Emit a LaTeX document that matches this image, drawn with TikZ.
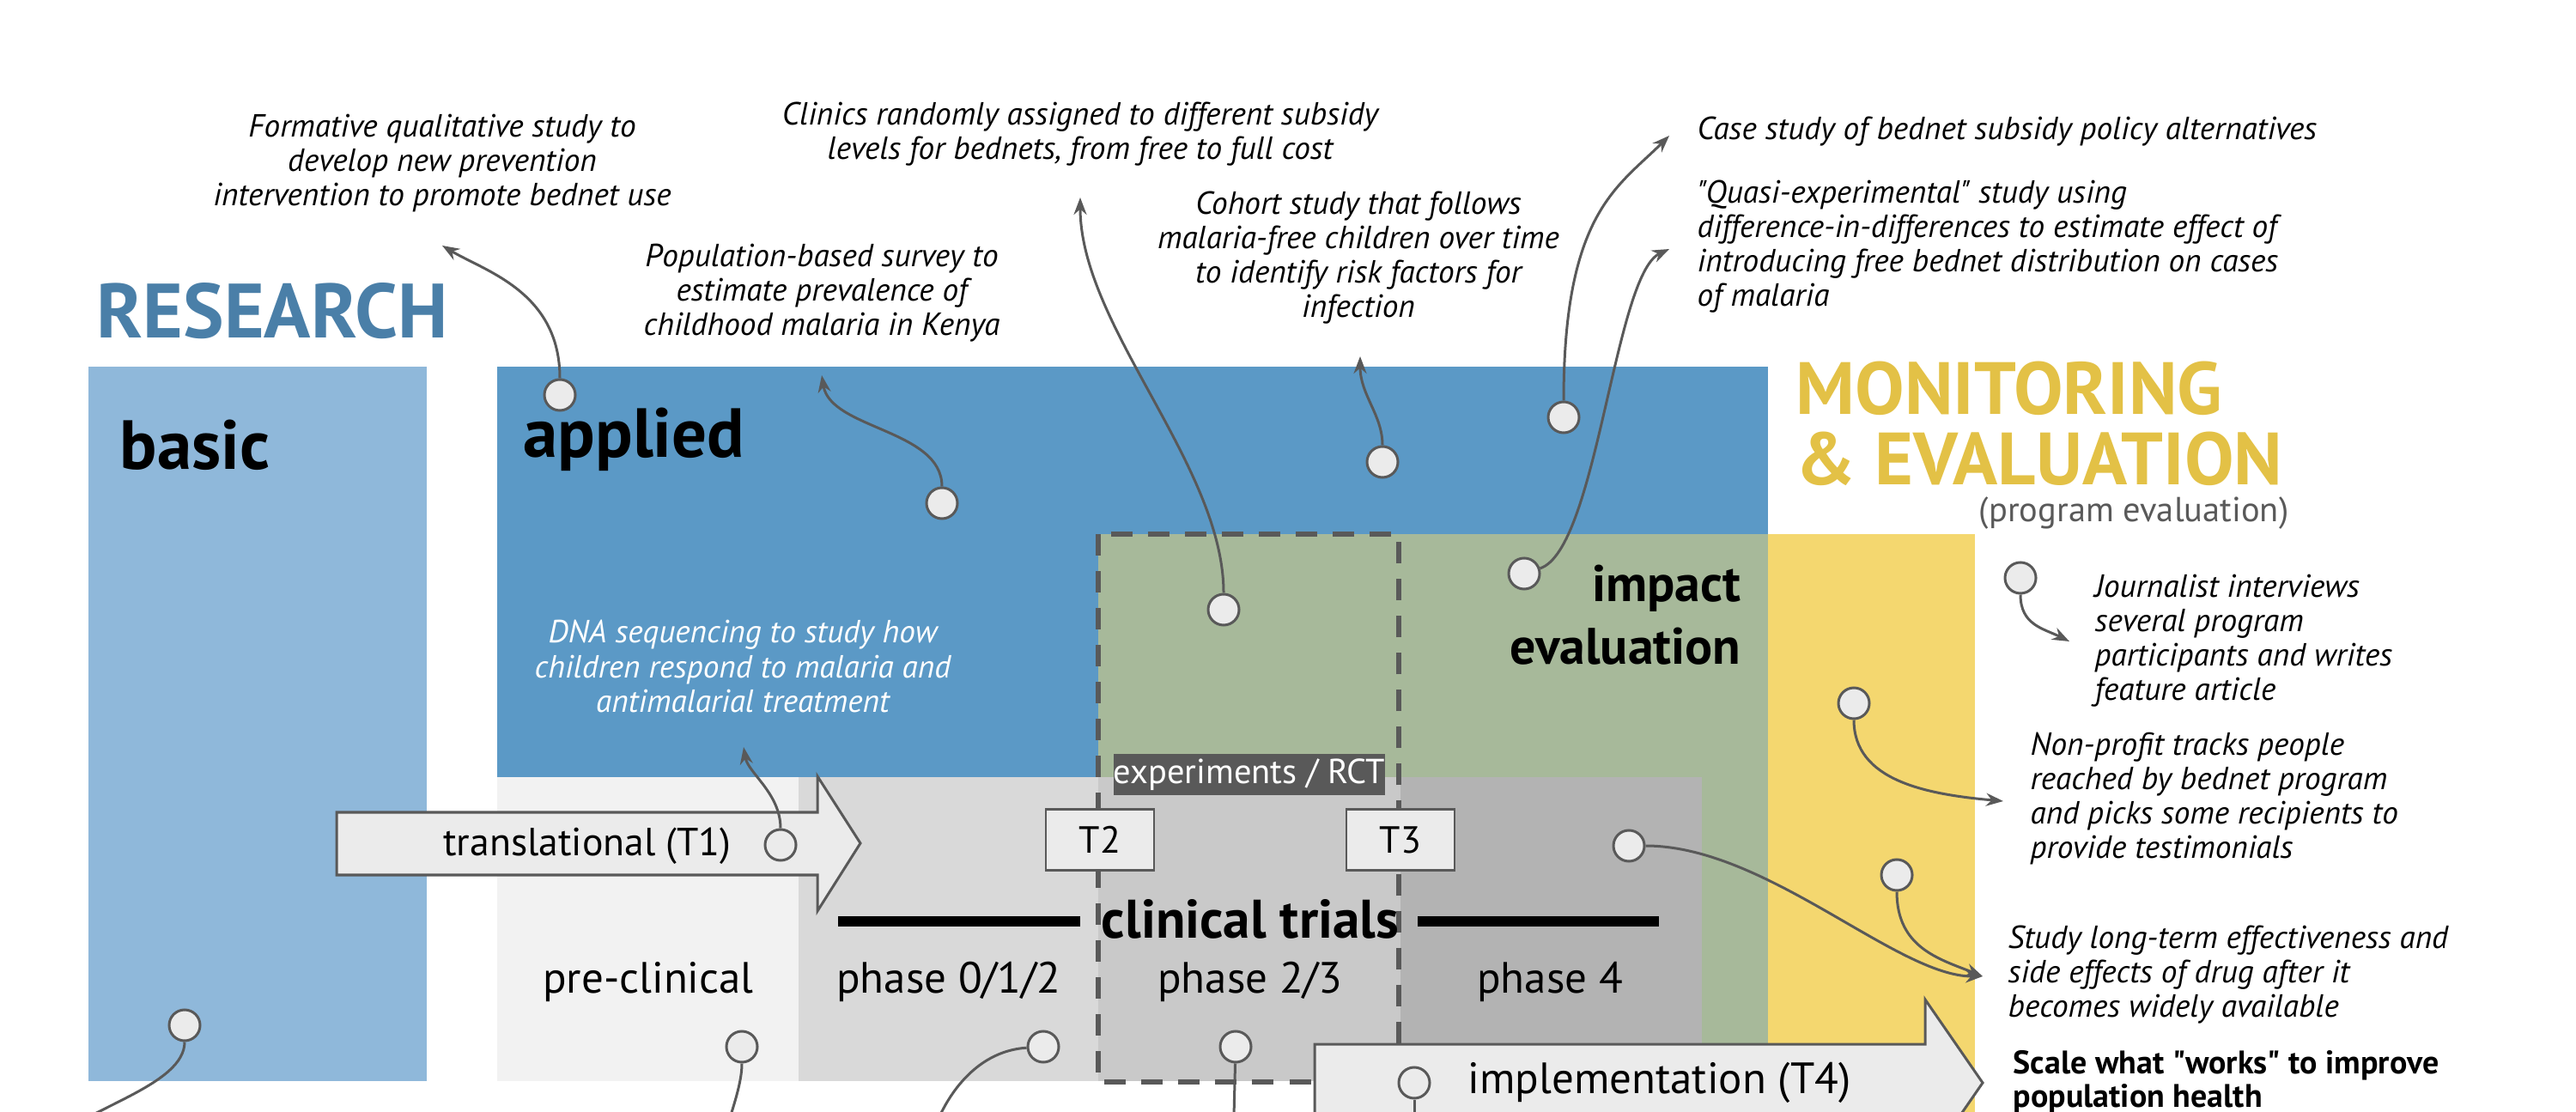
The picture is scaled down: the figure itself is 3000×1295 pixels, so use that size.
\documentclass[tikz,border=0pt]{standalone}
\usepackage{fontspec}
\setmainfont{PT Sans}[Ligatures=TeXOff]
\usepackage{tikz}
\usetikzlibrary{positioning, calc, arrows.meta}

\definecolor{basicblue}{HTML}{8FB8DA}
\definecolor{appliedblue}{HTML}{5B99C6}
\definecolor{titleblue}{HTML}{4A7FA8}
\definecolor{impactgreen}{HTML}{A7B99A}
\definecolor{meyellow}{HTML}{F4D76F}
\definecolor{titleyellow}{HTML}{E3C146}
\definecolor{linegray}{HTML}{595959}
\definecolor{bubblegray}{HTML}{EBEBEB}
\definecolor{preclin}{HTML}{F2F2F2}
\definecolor{phaseA}{HTML}{D9D9D9}
\definecolor{phaseB}{HTML}{C9C9C9}
\definecolor{phaseC}{HTML}{B3B3B3}

\begin{document}
\begin{tikzpicture}
    [x=0.01cm, y=-0.01cm,
    bubble/.style={circle, draw=linegray, fill=bubblegray, line width=0.03cm, minimum size=0.36cm, inner sep=0pt},
    note/.style={font=\fontsize{10.6}{11.4}\selectfont\itshape, align=center, inner sep=0pt},
    leftnote/.style={note, align=left, anchor=west},
    pointer/.style={draw=linegray, line width=0.03cm, -{Stealth[length=0.2cm, width=0.15cm]}},
    stub/.style={draw=linegray, line width=0.03cm},
    bigtitle/.style={font=\fontsize{24.5}{28}\selectfont\bfseries, inner sep=0pt, anchor=base west},
    boxtitle/.style={font=\fontsize{23}{26}\selectfont\bfseries, inner sep=0pt, anchor=base west},
    phaselabel/.style={font=\fontsize{14.5}{17}\selectfont, inner sep=0pt, anchor=base},
    tbox/.style={rectangle, draw=linegray, fill=bubblegray, line width=0.025cm, minimum width=1.26cm, minimum height=0.71cm, font=\fontsize{12.5}{15}\selectfont},
    bigarrow/.style={draw=linegray, fill=bubblegray, line width=0.03cm},]

    \clip (0,0) rectangle (3000,1295);

    %Regions
    \fill[basicblue] (103,427) rectangle (497,1259);
    \fill[appliedblue] (579,427) rectangle (2059,905);
    \fill[impactgreen] (1279,622) rectangle (2059,1259);
    \fill[meyellow] (2059,622) rectangle (2300,1300);
    \fill[preclin] (579,905) rectangle (930,1259);
    \fill[phaseA] (930,905) rectangle (1279,1259);
    \fill[phaseB] (1279,905) rectangle (1631,1259);
    \fill[phaseC] (1631,905) rectangle (1982,1259);
    \draw[linegray, line width=0.06cm, dash pattern=on 0.25cm off 0.18cm] (1279,622) rectangle (1629,1260);

    %Nodes
    \node[bigtitle, text=titleblue, font=\fontsize{25.5}{28}\selectfont\bfseries](research) at (112,394){RESEARCH};
    \node[boxtitle](basic) at (139,547){basic};
    \node[boxtitle](applied) at (609,533){applied};
    \node[bigtitle, text=titleyellow](monitoring) at (2091,483){MONITORING};
    \node[bigtitle, text=titleyellow](evaluation)[below=0.17cm of monitoring.south west, anchor=north west]{\& EVALUATION};
    \node[font=\fontsize{11.5}{14}\selectfont, text=linegray, inner sep=0pt](progeval)[below=0.12cm of evaluation.south east, anchor=north east, xshift=0.07cm]{(program evaluation)};
    \node[font=\fontsize{17}{20.7}\selectfont\bfseries, align=right, anchor=east, inner sep=0pt](impact) at (2028,716){impact\\evaluation};

    \node[fill=linegray, text=white, font=\fontsize{11.5}{13}\selectfont, minimum width=3.15cm, minimum height=0.48cm, inner sep=0pt](rct) at (1455,902){experiments / RCT};

    \draw[bigarrow] (392,946) -- (952,946) -- (952,904) -- (1002,982) -- (952,1061) -- (952,1019) -- (392,1019) -- cycle;
    \node[font=\fontsize{13}{15}\selectfont, inner sep=0pt](t1) at (684,985){translational (T1)};

    \node[tbox](t2) at (1281,978){T2};
    \node[tbox](t3) at (1631,978){T3};

    \draw[line width=0.12cm] (976,1073) -- (1258,1073);
    \draw[line width=0.12cm] (1651,1073) -- (1932,1073);
    \node[font=\fontsize{18}{20}\selectfont\bfseries, inner sep=0pt](clinical) at (1456,1070){clinical trials};

    \node[phaselabel](preclinical) at (755,1156){pre-clinical};
    \node[phaselabel](phase012) at (1105,1156){phase 0/1/2};
    \node[phaselabel](phase23) at (1456,1156){phase 2/3};
    \node[phaselabel](phase4) at (1805,1156){phase 4};

    \draw[bigarrow] (1531,1216) -- (2242,1216) -- (2242,1164) -- (2309,1261) -- (2242,1358) -- (2242,1306) -- (1531,1306) -- cycle;
    \node[font=\fontsize{14.5}{16}\selectfont, inner sep=0pt, anchor=west](t4) at (1709,1261){implementation (T4)};

    \node[note](formative) at (515,190){Formative qualitative study to\\develop new prevention\\intervention to promote bednet use};
    \node[note](clinics) at (1258,156){Clinics randomly assigned to different subsidy\\levels for bednets, from free to full cost};
    \node[note](survey) at (957,341){Population-based survey to\\estimate prevalence of\\childhood malaria in Kenya};
    \node[note](cohort) at (1582,300){Cohort study that follows\\malaria-free children over time\\to identify risk factors for\\infection};
    \node[leftnote](casestudy) at (1976,153){Case study of bednet subsidy policy alternatives};
    \node[leftnote](quasi) at (1976,287){"Quasi-experimental" study using\\difference-in-differences to estimate effect of\\introducing free bednet distribution on cases\\of malaria};
    \node[note, text=white](dna) at (865,776){DNA sequencing to study how\\children respond to malaria and\\antimalarial treatment};
    \node[leftnote](journalist) at (2439,746){Journalist interviews\\several program\\participants and writes\\feature article};
    \node[leftnote](nonprofit) at (2364,930){Non-profit tracks people\\reached by bednet program\\and picks some recipients to\\provide testimonials};
    \node[leftnote](longterm) at (2338,1135){Study long-term effectiveness and\\side effects of drug after it\\becomes widely available};
    \node[leftnote, font=\fontsize{10.8}{11.2}\selectfont\bfseries](scale) at (2344,1260){Scale what "works" to improve\\population health};

    \node[bubble](formbub) at (652,460){};
    \node[bubble](surveybub) at (1097,586){};
    \node[bubble](clinicsbub) at (1425,710){};
    \node[bubble](cohortbub) at (1610,538){};
    \node[bubble](casebub) at (1821,486){};
    \node[bubble](quasibub) at (1775,668){};
    \node[bubble](dnabub) at (909,984){};
    \node[bubble](basicbub) at (215,1194){};
    \node[bubble](preclinbub) at (864,1219){};
    \node[bubble](phaseAbub) at (1215,1219){};
    \node[bubble](phaseBbub) at (1439,1219){};
    \node[bubble](implbub) at (1647,1261){};
    \node[bubble](phaseCbub) at (1897,985){};
    \node[bubble](journbub) at (2353,673){};
    \node[bubble](nonprofbub) at (2159,819){};
    \node[bubble](longbub) at (2209,1019){};

    \coordinate(formtip) at (515,286);
    \coordinate(surveytip) at (957,437);
    \coordinate(clinicstip) at (1258,230);
    \coordinate(cohorttip) at (1584,415);
    \coordinate(casetip) at (1944,158);
    \coordinate(quasitip) at (1944,290);
    \coordinate(dnatip) at (866,870);
    \coordinate(journtip) at (2410,747);
    \coordinate(nonproftip) at (2333,933);
    \coordinate(longtip) at (2309,1137);
    \coordinate(basicend) at (60,1330);
    \coordinate(preclinend) at (840,1340);
    \coordinate(phaseAend) at (1080,1340);
    \coordinate(phaseBend) at (1436,1340);
    \coordinate(implend) at (1647,1340);

    %Lines
    \draw[pointer] (formbub) .. controls +(0,-120) and +(50,30) .. (formtip);
    \draw[pointer] (surveybub) .. controls +(0,-86) and +(10,63) .. (surveytip);
    \draw[pointer] (clinicsbub) .. controls +(0,-168) and +(0,150) .. (clinicstip);
    \draw[pointer] (cohortbub) .. controls +(0,-55) and +(0,45) .. (cohorttip);
    \draw[pointer] (casebub) .. controls +(0,-238) and +(-60,60) .. (casetip);
    \draw[pointer] (quasibub) .. controls +(85,-28) and +(-64,30) .. (quasitip);
    \draw[pointer] (dnabub) .. controls +(0,-60) and +(5,30) .. (dnatip);
    \draw[pointer] (journbub) .. controls +(0,55) and +(-30,-15) .. (journtip);
    \draw[pointer] (nonprofbub) .. controls +(0,90) and +(-90,-8) .. (nonproftip);
    \draw[pointer] (longbub) .. controls +(0,85) and +(-50,-20) .. (longtip);
    \draw[pointer] (phaseCbub) .. controls +(160,0) and +(-100,0) .. (longtip);

    \draw[stub] (basicbub) .. controls +(0,70) and +(40,-40) .. (basicend);
    \draw[stub] (preclinbub) .. controls +(0,50) and +(5,-30) .. (preclinend);
    \draw[stub] (phaseAbub) .. controls +(-80,5) and +(15,-60) .. (phaseAend);
    \draw[stub] (phaseBbub) -- (phaseBend);
    \draw[stub] (implbub) -- (implend);
\end{tikzpicture}
\end{document}
